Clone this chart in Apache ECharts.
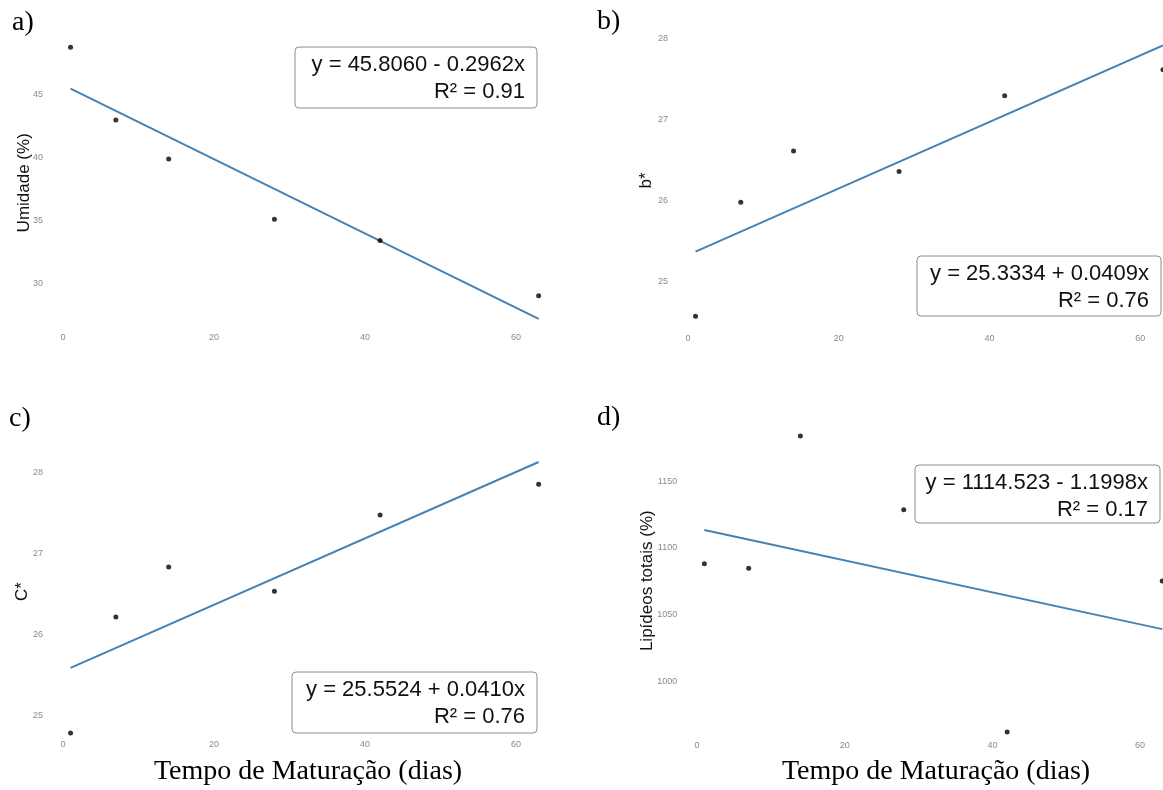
<!DOCTYPE html>
<html>
<head>
<meta charset="utf-8">
<script src="https://cdn.jsdelivr.net/npm/echarts@6/dist/echarts.min.js"></script>
<style>
  html, body { margin: 0; padding: 0; background: #fff; }
  #chart { width: 1163px; height: 790px; }
</style>
</head>
<body>
<div id="chart"></div>
<script>
// dados
var days = [1, 7, 14, 28, 42, 63];
var umidade = [48.8, 43.0, 39.9, 35.1, 33.4, 29.0];
var bEstrela = [24.58, 25.98, 26.61, 26.36, 27.29, 27.61];
var cEstrela = [24.79, 26.22, 26.84, 26.54, 27.48, 27.86];
var lipideos = [1088, 1084.5, 1183.7, 1128.5, 961.7, 1075];

var intercepts = [45.8060, 25.3334, 25.5524, 1114.523];
var slopes = [-0.2962, 0.0409, 0.0410, -1.1998];
var equations = ['y = 45.8060 - 0.2962x', 'y = 25.3334 + 0.0409x', 'y = 25.5524 + 0.0410x', 'y = 1114.523 - 1.1998x'];
var r2Labels = ['R\u00b2 = 0.91', 'R\u00b2 = 0.76', 'R\u00b2 = 0.76', 'R\u00b2 = 0.17'];
var yNames = ['Umidade (%)', 'b*', 'C*', 'Lipídeos totais (%)'];
var panelLabels = ['a)', 'b)', 'c)', 'd)'];
var xTicks = [0, 20, 40, 60];
var yTicks = [[30, 35, 40, 45], [25, 26, 27, 28], [25, 26, 27, 28], [1000, 1050, 1100, 1150]];
var xTitle = 'Tempo de Maturação (dias)';

var values = [umidade, bEstrela, cEstrela, lipideos];

// layout de cada painel (pixels)
var panels = [
    {grid: {left: 47.9, top: 32.3, width: 513.4, height: 301}, yMin: 26, yMax: 50, xMargin: 0, nameGap: 15, box: [295, 47, 242, 61], tag: [12, 23]},
    {grid: {left: 672.9, top: 29.9, width: 512.7, height: 300.9}, yMin: 24.4, yMax: 28.1, xMargin: 3, nameGap: 18, box: [917, 256, 244, 60], tag: [597, 22]},
    {grid: {left: 47.9, top: 444.6, width: 513.4, height: 294}, yMin: 24.72, yMax: 28.35, xMargin: 1, nameGap: 17, box: [292, 672, 245, 61], tag: [9, 419]},
    {grid: {left: 682.2, top: 421.7, width: 502.2, height: 318}, yMin: 956, yMax: 1194.5, xMargin: 1, nameGap: 26, box: [915, 465, 245, 58], tag: [597, 418]}
];

var tickStyle = {color: '#8a8a8a', fontSize: 9, fontFamily: 'Liberation Sans, Arial, sans-serif'};

var grids = [], xAxes = [], yAxes = [], series = [], graphics = [];

panels.forEach(function (p, i) {
    grids.push(Object.assign({outerBoundsMode: 'none', containLabel: false}, p.grid));
    xAxes.push({
        type: 'value', gridIndex: i, min: -2, max: 66,
        axisLine: {show: false}, axisTick: {show: false}, splitLine: {show: false},
        axisLabel: Object.assign({customValues: xTicks, margin: p.xMargin}, tickStyle)
    });
    yAxes.push({
        type: 'value', gridIndex: i, min: p.yMin, max: p.yMax,
        name: yNames[i], nameLocation: 'middle', nameGap: p.nameGap, nameRotate: 90,
        nameMoveOverlap: false,
        nameTextStyle: {color: '#111', fontSize: 17, fontFamily: 'Liberation Sans, Arial, sans-serif'},
        axisLine: {show: false}, axisTick: {show: false}, splitLine: {show: false},
        axisLabel: Object.assign({
            customValues: yTicks[i], margin: 5,
            formatter: function (v) { return String(v); }
        }, tickStyle)
    });

    var pts = days.map(function (d, k) { return [d, values[i][k]]; });
    var x0 = days[0], x1 = days[days.length - 1];
    series.push({
        type: 'line', xAxisIndex: i, yAxisIndex: i,
        data: [[x0, intercepts[i] + slopes[i] * x0], [x1, intercepts[i] + slopes[i] * x1]],
        showSymbol: false, lineStyle: {color: '#4682B4', width: 2}, z: 2
    });
    series.push({
        type: 'scatter', xAxisIndex: i, yAxisIndex: i,
        data: pts, symbolSize: 5, itemStyle: {color: '#000'}, z: 3
    });

    var b = p.box;
    graphics.push({
        type: 'rect', z: 10,
        shape: {x: b[0], y: b[1], width: b[2], height: b[3], r: 4},
        style: {fill: '#fff', stroke: '#8c8c8c', lineWidth: 1}
    });
    graphics.push({
        type: 'text', z: 11, x: b[0] + b[2] - 12, y: b[1] + 18,
        style: {text: equations[i], fill: '#111', font: '22px "Liberation Sans", Arial, sans-serif', textAlign: 'right', textVerticalAlign: 'middle'}
    });
    graphics.push({
        type: 'text', z: 11, x: b[0] + b[2] - 12, y: b[1] + 45,
        style: {text: r2Labels[i], fill: '#111', font: '22px "Liberation Sans", Arial, sans-serif', textAlign: 'right', textVerticalAlign: 'middle'}
    });
    graphics.push({
        type: 'text', z: 11, x: p.tag[0], y: p.tag[1],
        style: {text: panelLabels[i], fill: '#000', font: '28px "Liberation Serif", "Times New Roman", serif', textAlign: 'left', textVerticalAlign: 'middle'}
    });
});

graphics.push({
    type: 'text', z: 11, x: 308, y: 772,
    style: {text: xTitle, fill: '#000', font: '28px "Liberation Serif", "Times New Roman", serif', textAlign: 'center', textVerticalAlign: 'middle'}
});
graphics.push({
    type: 'text', z: 11, x: 936, y: 772,
    style: {text: xTitle, fill: '#000', font: '28px "Liberation Serif", "Times New Roman", serif', textAlign: 'center', textVerticalAlign: 'middle'}
});

var myChart = echarts.init(document.getElementById('chart'));
myChart.setOption({
    backgroundColor: '#fff',
    animation: false,
    grid: grids,
    xAxis: xAxes,
    yAxis: yAxes,
    series: series,
    graphic: graphics
});
</script>
</body>
</html>
